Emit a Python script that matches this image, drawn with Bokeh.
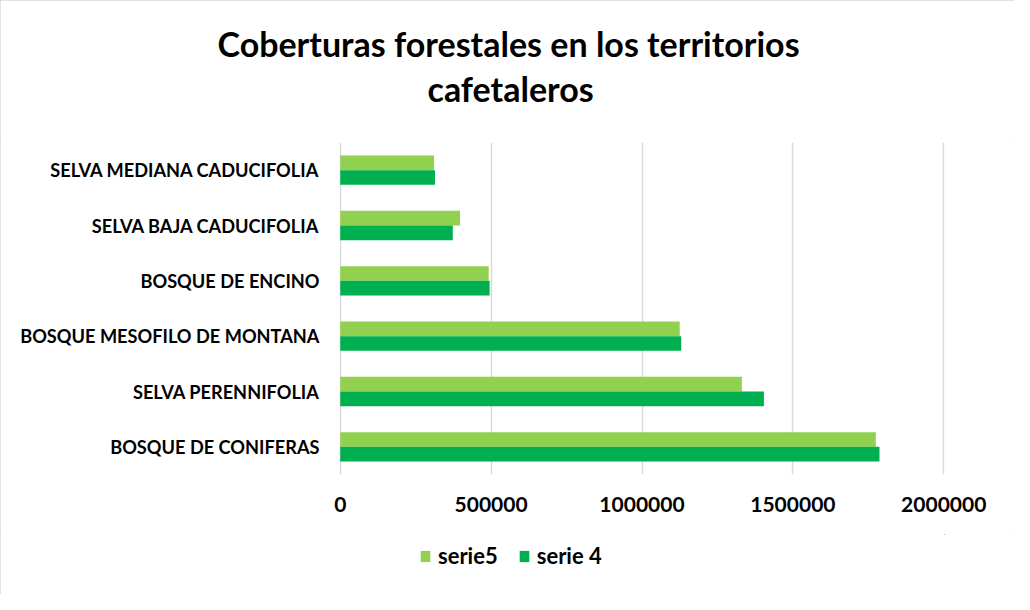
from bokeh.plotting import figure
from bokeh.layouts import column
from bokeh.models import (Range1d, FixedTicker, Legend, LegendItem, Title, ColumnDataSource,
                          NumeralTickFormatter)
from bokeh.embed import file_html
from bokeh.resources import INLINE

categories = ["BOSQUE DE CONIFERAS", "SELVA PERENNIFOLIA", "BOSQUE MESOFILO DE MONTANA",
              "BOSQUE DE ENCINO", "SELVA BAJA CADUCIFOLIA", "SELVA MEDIANA CADUCIFOLIA"]
serie5 = [1775000, 1331000, 1125000, 492000, 397000, 311000]
serie4 = [1787000, 1404000, 1130000, 495000, 373000, 314000]
series_names = ["serie5", "serie 4"]
series_colors = ["#92D050", "#00B050"]
x_ticks = [0, 500000, 1000000, 1500000, 2000000]
title_lines = ["Coberturas forestales en los territorios", "cafetaleros"]

FONT = "Lato"
W = 1014
TOP_H, MAIN_H, LEG_H = 136, 398, 60

idx = list(range(len(categories)))
src = ColumnDataSource(dict(
    y5=[i + 0.1325 for i in idx],
    y4=[i - 0.1325 for i in idx],
    s5=serie5, s4=serie4))

# ---------- title strip ----------
tf = figure(width=W, height=TOP_H, output_backend="svg", toolbar_location=None, title=None,
            x_range=Range1d(0, 1), y_range=Range1d(0, 1),
            x_axis_type=None, y_axis_type=None, min_border_top=109, min_border_bottom=0)
tf.outline_line_color = None
tf.grid.visible = False
t2 = Title(text=title_lines[1], align="left", offset=88, standoff=2,
           text_font=FONT, text_font_style="bold", text_font_size="34px", text_color="#000000")
t1 = Title(text=title_lines[0], align="left", offset=-122, standoff=2,
           text_font=FONT, text_font_style="bold", text_font_size="34px", text_color="#000000")
tf.add_layout(t2, "above")
tf.add_layout(t1, "above")

# ---------- main chart ----------
p = figure(width=W, height=MAIN_H, output_backend="svg", toolbar_location=None,
           x_range=Range1d(-2500, 2002500), y_range=Range1d(-0.5, 5.5),
           min_border_left=339, min_border_right=70, min_border_top=6, min_border_bottom=60)
p.outline_line_color = None

p.hbar(y="y5", left=0, right="s5", height=0.265, source=src,
       fill_color=series_colors[0], line_color=None)
p.hbar(y="y4", left=0, right="s4", height=0.265, source=src,
       fill_color=series_colors[1], line_color=None)

p.yaxis.ticker = FixedTicker(ticks=idx)
p.yaxis.major_label_overrides = {i: c for i, c in zip(idx, categories)}
p.xaxis.ticker = FixedTicker(ticks=x_ticks)
p.xaxis.formatter = NumeralTickFormatter(format="0")
for ax in (p.xaxis, p.yaxis):
    ax.axis_line_color = None
    ax.major_tick_line_color = None
    ax.minor_tick_line_color = None
    ax.major_tick_out = 0
    ax.major_tick_in = 0
    ax.major_label_text_font = FONT
    ax.major_label_text_font_style = "bold"
    ax.major_label_text_color = "#000000"
p.yaxis.major_label_text_font_size = "18.2px"
p.yaxis.major_label_standoff = 20
p.xaxis.major_label_text_font_size = "21px"
p.xaxis.major_label_standoff = 22

p.ygrid.grid_line_color = None
p.xgrid.ticker = FixedTicker(ticks=x_ticks)
p.xgrid.grid_line_color = "#d9d9d9"
p.xgrid.grid_line_width = 1.5

# ---------- legend strip (its bars share the data, have zero thickness and lie outside its view) ----------
lf = figure(width=W, height=LEG_H, output_backend="svg", toolbar_location=None,
            x_range=Range1d(-2e9, -1.9e9), y_range=Range1d(-10000, -9940),
            x_axis_type=None, y_axis_type=None, min_border_top=0, min_border_bottom=0)
lf.outline_line_color = None
lf.grid.visible = False
l5 = lf.hbar(y="y5", left=0, right="s5", height=0, source=src,
             fill_color=series_colors[0], line_color=None)
l4 = lf.hbar(y="y4", left=0, right="s4", height=0, source=src,
             fill_color=series_colors[1], line_color=None)
legend = Legend(items=[LegendItem(label=series_names[0], renderers=[l5]),
                       LegendItem(label=series_names[1], renderers=[l4])],
                orientation="horizontal", location=(80, 25),
                label_text_font=FONT, label_text_font_style="bold", label_text_font_size="22px",
                label_text_color="#000000",
                glyph_width=12, glyph_height=14, label_standoff=7, spacing=20,
                padding=4, margin=0, border_line_color=None, background_fill_alpha=0)
lf.add_layout(legend, "center")

layout = column(tf, p, lf, spacing=0)
layout.styles = {"outline": "1px solid #d9d9d9", "outline-offset": "-1px"}

open("out.html", "w").write(file_html(layout, INLINE))
